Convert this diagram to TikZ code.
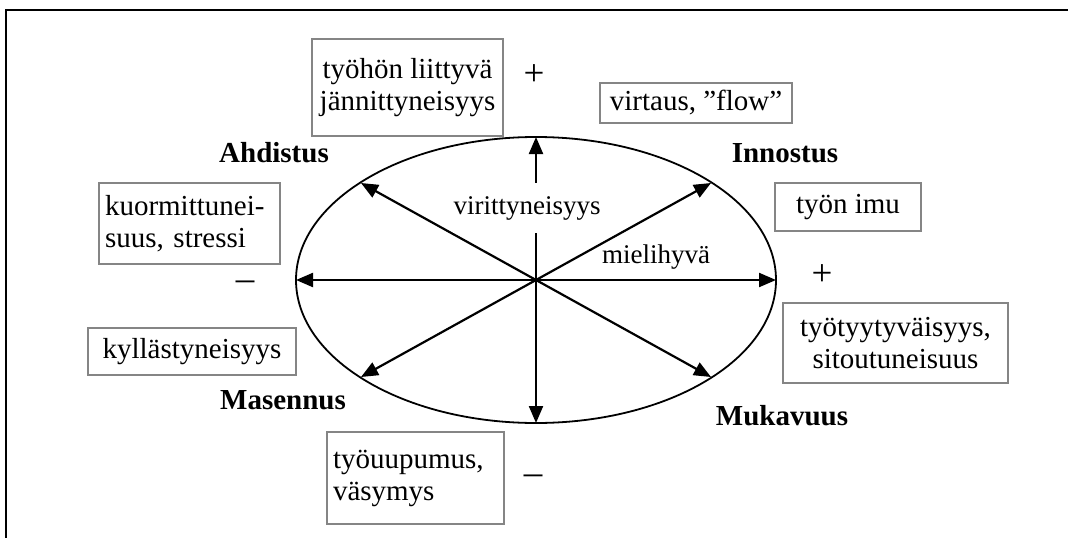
\documentclass[tikz,border=0pt]{standalone}
\usepackage{fontspec}
\setmainfont{Liberation Serif}
\usetikzlibrary{arrows.meta}
\definecolor{boxgray}{gray}{0.52}
\newcommand\mfont{\fontsize{29}{32}\selectfont}
\newcommand\sfont{\fontsize{27}{30}\selectfont}
\newcommand\gfont{\fontsize{37}{40}\selectfont}
\begin{document}
\begin{tikzpicture}[x=1pt,y=-1pt,
  box/.style={draw=boxgray, line width=1.4pt, inner xsep=6pt, inner ysep=0pt, font=\mfont},
  lbl/.style={font=\mfont\bfseries, anchor=base, inner sep=0pt},
  sign/.style={font=\gfont, inner sep=0pt},
  axis/.style={line width=2.2pt, -{Triangle[length=17pt,width=14pt]}},
  frame/.style={line width=2.2pt, black}]
\useasboundingbox (0,0) rectangle (1068,538);
% outer frame (cut at right and bottom)
\coordinate (f1) at (6,540);
\coordinate (f2) at (6,10);
\coordinate (f3) at (1070,10);
\draw[frame] (f1) -- (f2) -- (f3);
% ellipse and axes
\coordinate (O) at (536,280);
\draw[line width=1.8pt] (O) ellipse [x radius=240pt, y radius=143pt];
\coordinate (T) at (536,137);
\coordinate (B) at (536,423);
\coordinate (L) at (296,280);
\coordinate (R) at (776,280);
\coordinate (UR) at (711,183);
\coordinate (UL) at (361,183);
\coordinate (LL) at (361,377);
\coordinate (LR) at (711,377);
\foreach \p in {T,B,L,R,UR,UL,LL,LR} \draw[axis] (O) -- (\p);
% axis labels
\node[fill=white, inner xsep=1pt, inner ysep=0pt, minimum height=50pt, font=\sfont] (virit) at (527,208) {virittyneisyys};
\node[font=\sfont, anchor=base, inner sep=0pt] (mieli) at (656,263) {mielihyvä};
% corner labels
\node[lbl] (ahd) at (274,162) {Ahdistus};
\node[lbl] (inn) at (785,162) {Innostus};
\node[lbl] (mas) at (283,409) {Masennus};
\node[lbl] (muk) at (782,425) {Mukavuus};
% signs
\node[sign] (ptop) at (534,75) {+};
\node[sign] (mleft) at (245,286) {–};
\node[sign] (pright) at (822,275) {+};
\node[sign] (mbot) at (533,480) {–};
% boxes
\node[box, minimum width=191pt, minimum height=97pt, align=center] (b1) at (407.5,87.5) {työhön liittyvä\\jännittyneisyys};
\node[box, minimum width=192pt, minimum height=40pt] (b2) at (696,103) {virtaus, ”flow”};
\node[box, text width=169pt, minimum height=81pt, align=left] (b3) at (189.5,223.5) {kuormittunei-\\suus, stressi};
\node[box, minimum width=208pt, minimum height=47pt] (b4) at (192,351.5) {kyllästyneisyys};
\node[box, minimum width=146pt, minimum height=48pt] (b5) at (848,207) {työn imu};
\node[box, minimum width=225pt, minimum height=80pt, align=center] (b6) at (895.5,343) {työtyytyväisyys,\\sitoutuneisuus};
\node[box, text width=165pt, minimum height=92pt, align=left] (b7) at (415.5,478) {työuupumus,\\väsymys};
\end{tikzpicture}
\end{document}
